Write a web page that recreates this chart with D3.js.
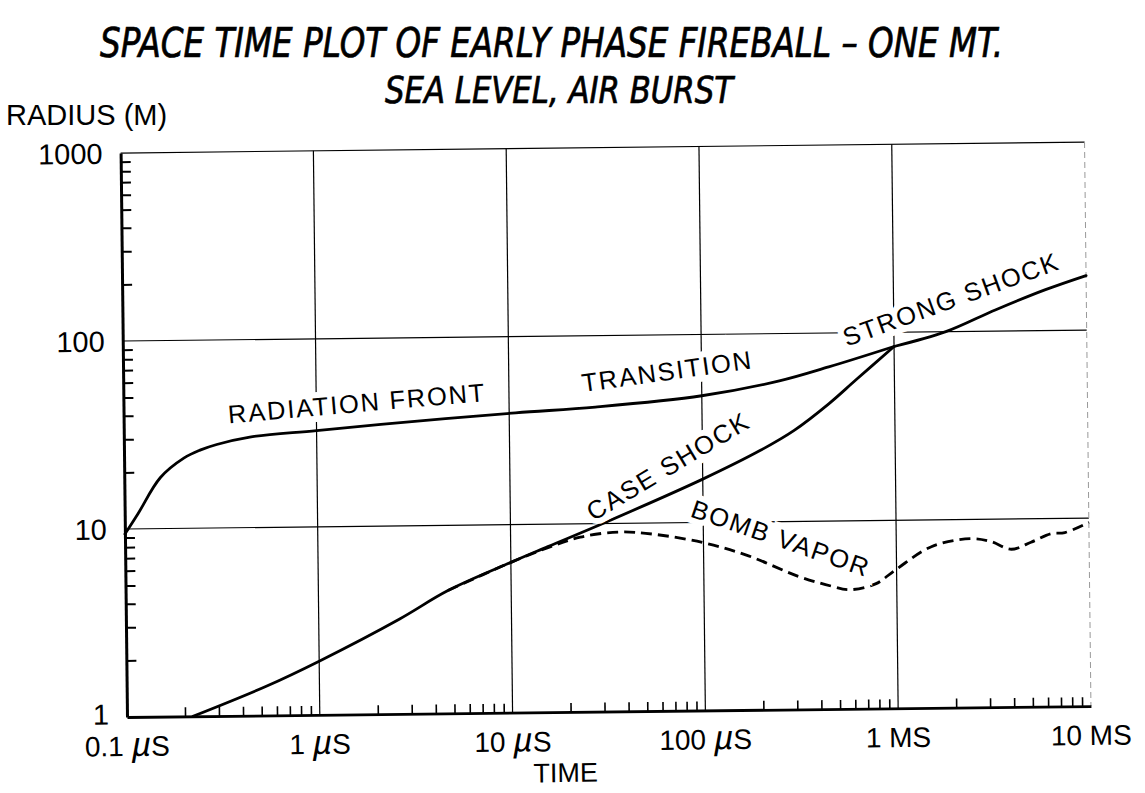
<!DOCTYPE html>
<html><head><meta charset="utf-8">
<script src="https://cdn.jsdelivr.net/npm/d3@7"></script>
<style>body{margin:0;background:#fff}svg{display:block}</style>
</head><body>
<svg id="chart" width="1145" height="793"></svg>
<script>
// ---- data (time in microseconds, radius in metres) ----
const xTickValues = [0.1, 1, 10, 100, 1000, 10000];
const xTickNumbers = ["0.1 ", "1 ", "10 ", "100 ", "1 MS", "10 MS"];
const xTickMicro = [true, true, true, true, false, false];
const yTickValues = [1, 10, 100, 1000];
const yTickLabels = ["1", "10", "100", "1000"];

const radiationTime   = [0.1, 0.117, 0.154, 0.205, 0.248, 0.303, 0.45, 1, 3.34, 10.8, 28, 100, 253, 457, 1000];
const radiationRadius = [9.4, 12, 18.7, 23.7, 26, 27.8, 30.3, 32.5, 36, 39.3, 41.7, 47.2, 56, 66, 84];

const strongTime   = [1000, 1860, 3390, 6150, 10000];
const strongRadius = [84, 100, 130, 165, 195];

const caseTime   = [0.22, 0.53, 1, 2.63, 4.7, 10, 15.6, 30.8, 100, 200, 300, 455, 630, 1000];
const caseRadius = [1, 1.43, 1.93, 3.2, 4.5, 6.3, 7.6, 10.1, 17, 24, 30.5, 42, 56, 84];

const vaporTime   = [4.7, 10, 15.6, 23, 37, 56, 100, 171, 309, 460, 565, 776, 1000, 1520, 2450, 3100, 3950, 5000, 6350, 7500, 10000];
const vaporRadius = [4.5, 6.3, 7.5, 8.5, 9.0, 8.7, 7.8, 6.6, 5.1, 4.5, 4.3, 4.6, 5.5, 7.2, 7.9, 7.6, 6.9, 7.5, 8.3, 8.4, 9.5];

const curveLabels = ["RADIATION FRONT", "TRANSITION", "CASE SHOCK", "BOMB VAPOR", "STRONG SHOCK"];

// ---- layout ----
const svg = d3.select("#chart");
const W = 964, H = 564;
const x = d3.scaleLog().domain([0.1, 10000]).range([0, W]);
const y = d3.scaleLog().domain([1, 1000]).range([H, 0]);

const sans = "'Liberation Sans', Arial, sans-serif";
const cond = "'DejaVu Sans Condensed','DejaVu Sans',sans-serif";

// title
svg.append("text").attr("x", 100).attr("y", 57)
  .attr("font-family", cond).attr("font-style", "italic").attr("font-size", 41)
  .attr("stroke", "#000").attr("stroke-width", 0.7)
  .attr("textLength", 903).attr("lengthAdjust", "spacingAndGlyphs")
  .text("SPACE TIME PLOT OF EARLY PHASE FIREBALL – ONE MT.");
svg.append("text").attr("x", 385).attr("y", 103)
  .attr("font-family", cond).attr("font-style", "italic").attr("font-size", 38)
  .attr("stroke", "#000").attr("stroke-width", 0.7)
  .attr("textLength", 348).attr("lengthAdjust", "spacingAndGlyphs")
  .text("SEA LEVEL, AIR BURST");
svg.append("text").attr("x", 6).attr("y", 125)
  .attr("font-family", sans).attr("font-size", 29)
  .text("RADIUS (M)");

const g = svg.append("g").attr("transform", `translate(127,717) rotate(-0.65) translate(0,${-H})`);

// gridlines
const gridX = [1, 10, 100, 1000];
g.selectAll("line.gx").data(gridX).join("line").attr("class", "gx")
  .attr("x1", d => x(d)).attr("x2", d => x(d)).attr("y1", 0).attr("y2", H)
  .attr("stroke", "#000").attr("stroke-width", 1.2);
const gridY = [10, 100, 1000];
g.selectAll("line.gy").data(gridY).join("line").attr("class", "gy")
  .attr("x1", 0).attr("x2", W).attr("y1", d => y(d)).attr("y2", d => y(d))
  .attr("stroke", "#000").attr("stroke-width", 1.2);
// right border (faint, broken)
g.append("line").attr("x1", W).attr("x2", W).attr("y1", 0).attr("y2", H)
  .attr("stroke", "#999").attr("stroke-width", 1).attr("stroke-dasharray", "6,4");

// minor ticks
const minorX = [];
for (let k = -1; k < 4; k++) for (let m = 2; m <= 9; m++) minorX.push(m * Math.pow(10, k));
const minorY = [];
for (let k = 0; k < 3; k++) for (let m = 2; m <= 9; m++) minorY.push(m * Math.pow(10, k));

const xAxis = g.append("g").attr("transform", `translate(0,${H})`)
  .call(d3.axisBottom(x).tickValues(minorX).tickSize(-9).tickSizeOuter(0).tickFormat(""));
xAxis.select(".domain").attr("stroke-width", 2.8);
xAxis.selectAll(".tick line").attr("stroke-width", 1.6);

const yAxis = g.append("g")
  .call(d3.axisLeft(y).tickValues(minorY).tickSize(-10).tickSizeOuter(0).tickFormat(""));
yAxis.select(".domain").attr("stroke-width", 3);
yAxis.selectAll(".tick line").attr("stroke-width", 2);

// y tick labels
g.selectAll("text.yl").data(yTickValues).join("text").attr("class", "yl")
  .attr("x", -18).attr("y", d => y(d) - (d === 1 ? 3 : 0)).attr("dy", "0.36em")
  .attr("text-anchor", "end").attr("font-family", sans).attr("font-size", 29)
  .text((d, i) => yTickLabels[i]);

// x tick labels
const xl = g.selectAll("text.xl").data(xTickValues).join("text").attr("class", "xl")
  .attr("x", d => x(d)).attr("y", H + 39)
  .attr("text-anchor", "middle").attr("font-family", sans).attr("font-size", 28);
xl.each(function (d, i) {
  const t = d3.select(this);
  t.append("tspan").text(xTickNumbers[i]);
  if (xTickMicro[i]) {
    t.append("tspan").attr("font-size", 34).attr("font-style", "italic").text("µ");
    t.append("tspan").text("S");
  }
});
g.append("text").attr("x", W / 2 - 44).attr("y", H + 70)
  .attr("text-anchor", "middle").attr("font-family", sans).attr("font-size", 27)
  .text("TIME");

// curve labels (with white halo so gridlines break around them)
const labelPos = [[357, 403, -5], [667, 371, -8], [668, 466, -31], [781, 538, 19], [951, 299, -20]];
svg.selectAll("text.cl").data(curveLabels).join("text").attr("class", "cl")
  .attr("transform", (d, i) => `translate(${labelPos[i][0]},${labelPos[i][1]}) rotate(${labelPos[i][2]})`)
  .attr("text-anchor", "middle").attr("dy", "0.36em")
  .attr("font-family", sans).attr("font-size", 25.5).attr("letter-spacing", 1.8)
  .attr("stroke", "#fff").attr("stroke-width", 12).attr("paint-order", "stroke")
  .attr("fill", "#000")
  .text(d => d);

// curves
const line = d3.line().x(d => x(d[0])).y(d => y(d[1])).curve(d3.curveCatmullRom.alpha(0.5));
const zip = (a, b) => a.map((v, i) => [v, b[i]]);
const curves = g.append("g").attr("fill", "none").attr("stroke", "#000").attr("stroke-linecap", "round");
curves.append("path").attr("d", line(zip(radiationTime, radiationRadius))).attr("stroke-width", 2.8);
curves.append("path").attr("d", line(zip(strongTime, strongRadius))).attr("stroke-width", 2.8);
curves.append("path").attr("d", line(zip(caseTime, caseRadius))).attr("stroke-width", 2.8);
curves.append("path").attr("d", line(zip(vaporTime, vaporRadius))).attr("stroke-width", 2.8)
  .attr("stroke-linecap", "butt").attr("stroke-dasharray", "11,6");
</script>
</body></html>
